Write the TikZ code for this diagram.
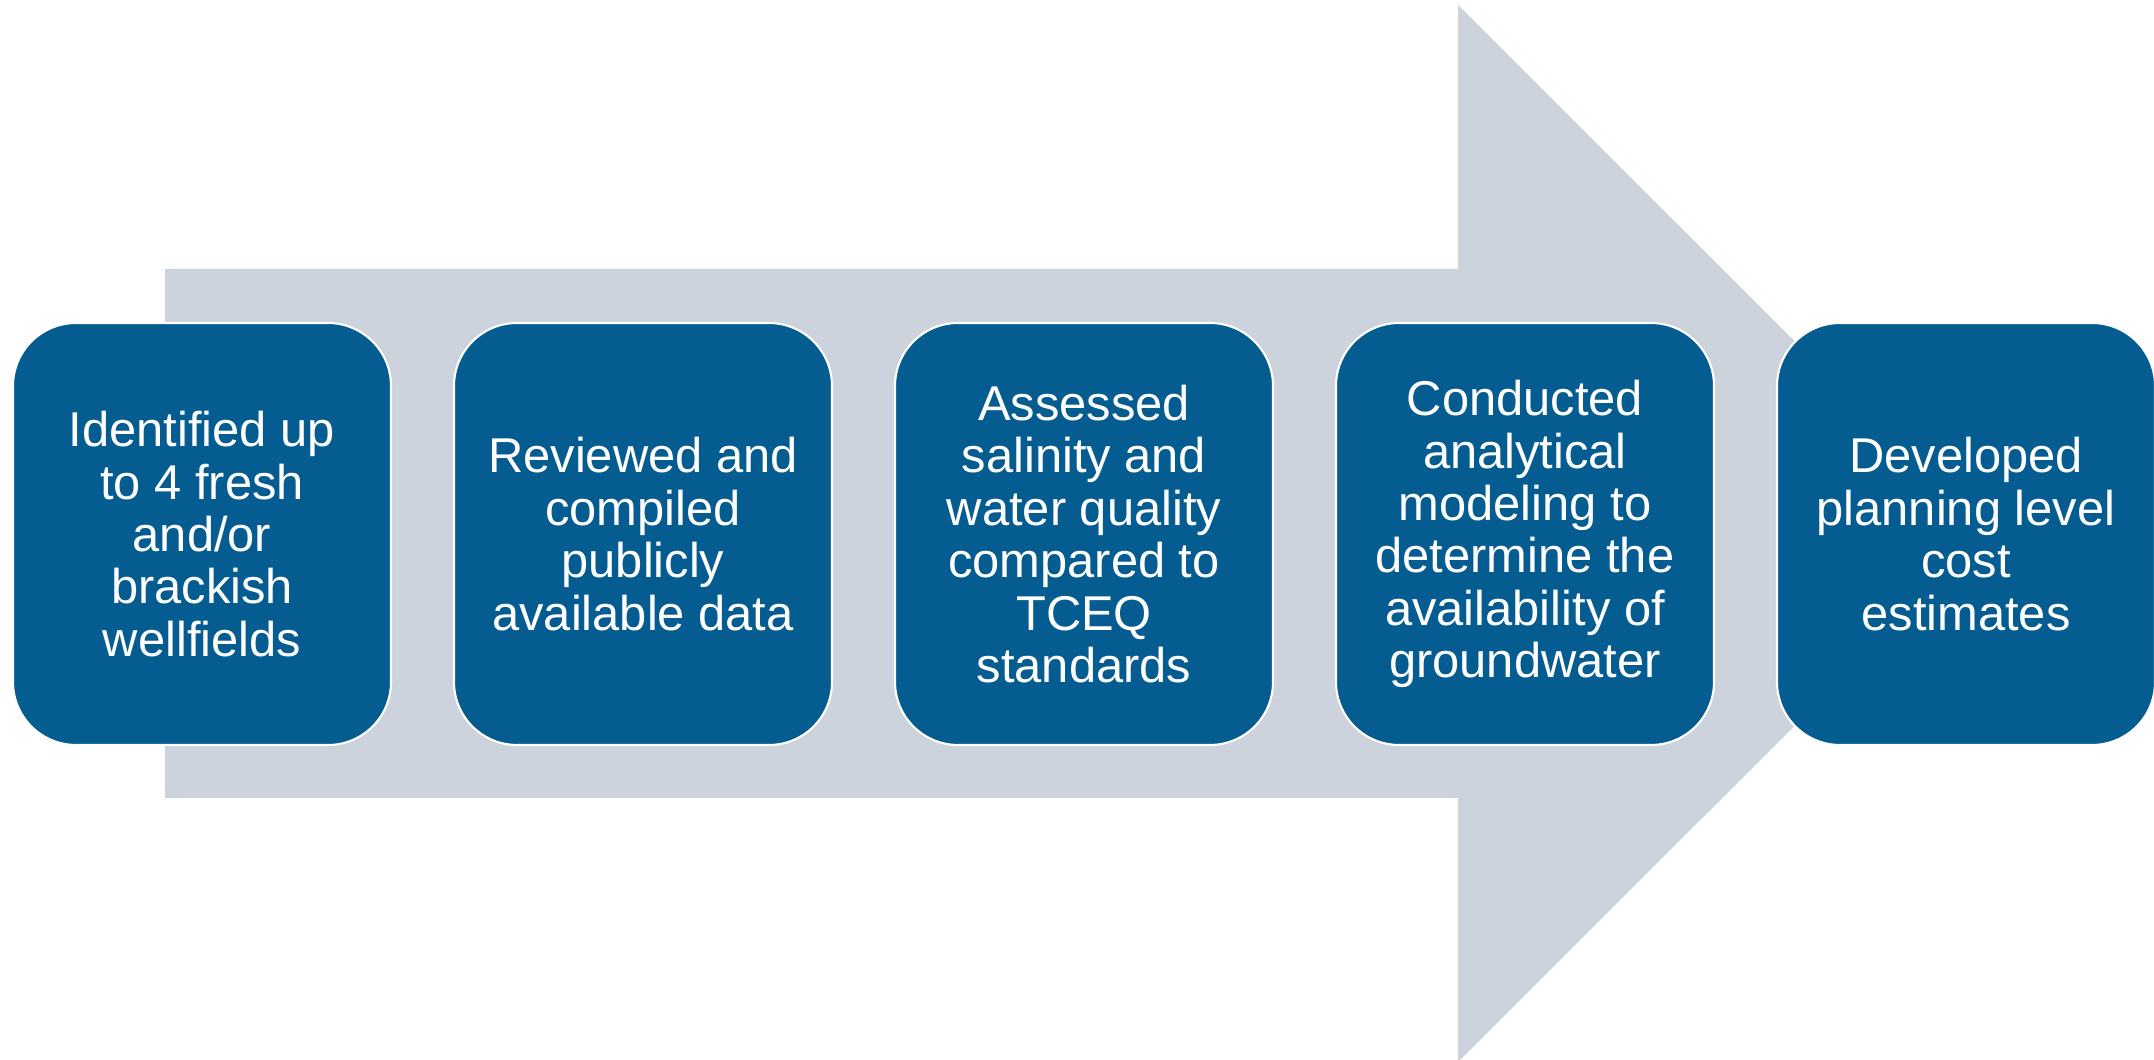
\documentclass[tikz,border=0pt]{standalone}
\usepackage{fontspec}
\setmainfont{Liberation Sans}
\usepackage{tikz}
\usetikzlibrary{calc}
\definecolor{arrowgrey}{RGB}{204,211,221}
\definecolor{stepblue}{RGB}{4,92,144}
\tikzset{
	stepbox/.style={rectangle, rounded corners=0.63cm, minimum width=3.78cm, minimum height=4.22cm,
		fill=stepblue, draw=white, line width=0.6pt, text=white, align=center,
		font=\fontsize{13.9}{14.9}\selectfont, inner sep=0pt}
}

\begin{document}
\begin{tikzpicture}
		%%%%% START %%%%%
		
		\useasboundingbox (0, 0) rectangle (21.54, 10.6);
		
		% big arrow behind the steps
		\fill[arrowgrey] (1.65, 7.91) -- (14.58, 7.91) -- (14.58, 10.55) -- (19.87, 5.265)
			-- (14.58, -0.02) -- (14.58, 2.62) -- (1.65, 2.62) -- cycle;
		
		\node[stepbox] (ident) at (2.02, 5.26) {Identified up\\to 4 fresh\\and/or\\brackish\\wellfields};
		\node[stepbox] (review) at (6.43, 5.26) {Reviewed and\\compiled\\publicly\\available data};
		\node[stepbox] (assess) at (10.84, 5.26) {Assessed\\salinity and\\water quality\\compared to\\TCEQ\\standards};
		\node[stepbox] (model) at (15.25, 5.26) {Conducted\\analytical\\modeling to\\determine the\\availability of\\groundwater};
		\node[stepbox] (cost) at (19.66, 5.26) {Developed\\planning level\\cost\\estimates};
		
		%%%%% END %%%%%
	\end{tikzpicture}
\end{document}
